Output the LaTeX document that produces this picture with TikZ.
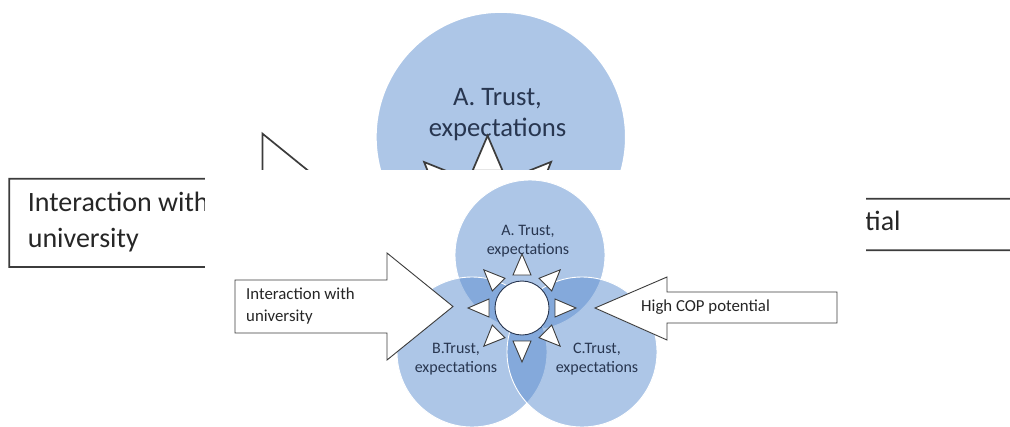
\documentclass[tikz,border=0pt]{standalone}
\usepackage{fontspec}
\setmainfont{Carlito}
\usetikzlibrary{calc}

\definecolor{vennblue}{RGB}{92,142,208}
\definecolor{labelblue}{RGB}{40,54,80}
\definecolor{edgegray}{RGB}{60,60,60}

\tikzset{
    vennfill/.style={fill=vennblue, fill opacity=0.5, draw=white},
    sunring/.style={fill=white, draw=labelblue},
    sunray/.style={fill=white, draw=edgegray, line join=miter},
    blockarrow/.style={fill=white, draw=edgegray, line join=miter},
    vennlabel/.style={text=labelblue, align=center, inner sep=0pt,
        font=\fontsize{16}{19}\selectfont},
    arrowtext/.style={text=black!85, align=left, inner sep=0pt, anchor=west,
        font=\fontsize{16.8}{22}\selectfont}
}

% #1 = prefix of the node names, #2 = line width
\newcommand\drawvenn[2]{%
    % three circles
    \path[vennfill, line width=#2] (530,255) circle (75pt);
    \path[vennfill, line width=#2] (472,352) circle (75pt);
    \path[vennfill, line width=#2] (582,352) circle (75pt);
    % labels of the circles
    \node[vennlabel] (#1A) at (528,241.5) {A. Trust,\\expectations};
    \node[vennlabel] (#1B) at (456,359) {B.Trust,\\expectations};
    \node[vennlabel] (#1C) at (597,359) {C.Trust,\\expectations};
    % sun in the middle
    \coordinate (#1sun) at (522,308);
    \path[sunring, line width=#2] (#1sun) circle (27pt);
    \foreach \a in {0,45,...,315}
        \draw[sunray, line width=#2, rotate around={\a:(#1sun)}]
            (555,299) -- (576,308) -- (555,317) -- cycle;
    % arrow from the left
    \draw[blockarrow, line width=#2] (235,280) -- (387,280) -- (387,253) -- (453,306.5)
        -- (387,360) -- (387,333) -- (235,333) -- cycle;
    \node[arrowtext] (#1inter) at (246,306) {Interaction with\\university};
    % arrow from the right
    \draw[blockarrow, line width=#2] (837,292) -- (667,292) -- (667,277) -- (595,308)
        -- (667,340) -- (667,323) -- (837,323) -- cycle;
    \node[arrowtext] (#1cop) at (641,307) {High COP potential};
}

\begin{document}
\begin{tikzpicture}[x=1pt, y=-1pt]
    \useasboundingbox (0,0) rectangle (1010,426);
    \clip (0,0) rectangle (1010,426);
    \fill[white] (0,0) rectangle (1010,426);

    % enlarged copy behind
    \begin{scope}[shift={(-382.5,-288)}, scale=5/3, transform shape]
        \drawvenn{big}{1.7pt}
    \end{scope}

    % white panel over it
    \fill[white] (205,170) rectangle (866,430);

    % the diagram itself
    \drawvenn{small}{0.9pt}
\end{tikzpicture}
\end{document}
